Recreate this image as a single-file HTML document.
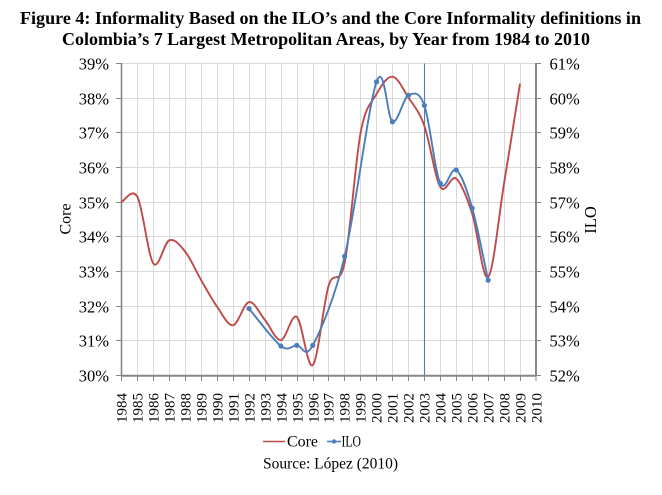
<!DOCTYPE html>
<html>
<head>
<meta charset="utf-8">
<style>
html,body{margin:0;padding:0;background:#fff;}
svg{display:block;}
text{font-family:"Liberation Serif","Times New Roman",serif;fill:#000;}
</style>
</head>
<body>
<svg id="chart" width="662" height="495" viewBox="0 0 662 495" xmlns="http://www.w3.org/2000/svg">
<rect x="0" y="0" width="662" height="495" fill="#fff"/>
<!-- Title -->
<text x="330.5" y="24" font-size="17.5" font-weight="bold" text-anchor="middle" textLength="621" lengthAdjust="spacingAndGlyphs">Figure 4: Informality Based on the ILO’s and the Core Informality definitions in</text>
<text x="326" y="45" font-size="17.5" font-weight="bold" text-anchor="middle" textLength="528" lengthAdjust="spacingAndGlyphs">Colombia’s 7 Largest Metropolitan Areas, by Year from 1984 to 2010</text>

<!-- horizontal gridlines -->
<g stroke="#d9d9d9" stroke-width="1">
<line x1="121.5" y1="63.5" x2="536" y2="63.5"/>
<line x1="121.5" y1="98.5" x2="536" y2="98.5"/>
<line x1="121.5" y1="132.5" x2="536" y2="132.5"/>
<line x1="121.5" y1="167.5" x2="536" y2="167.5"/>
<line x1="121.5" y1="202.5" x2="536" y2="202.5"/>
<line x1="121.5" y1="236.5" x2="536" y2="236.5"/>
<line x1="121.5" y1="271.5" x2="536" y2="271.5"/>
<line x1="121.5" y1="306.5" x2="536" y2="306.5"/>
<line x1="121.5" y1="340.5" x2="536" y2="340.5"/>
</g>
<!-- vertical gridlines -->
<g stroke="#d9d9d9" stroke-width="1">
<line x1="137.5" y1="63.5" x2="137.5" y2="375.5"/>
<line x1="153.5" y1="63.5" x2="153.5" y2="375.5"/>
<line x1="169.5" y1="63.5" x2="169.5" y2="375.5"/>
<line x1="185.5" y1="63.5" x2="185.5" y2="375.5"/>
<line x1="201.5" y1="63.5" x2="201.5" y2="375.5"/>
<line x1="217.5" y1="63.5" x2="217.5" y2="375.5"/>
<line x1="233.5" y1="63.5" x2="233.5" y2="375.5"/>
<line x1="249.5" y1="63.5" x2="249.5" y2="375.5"/>
<line x1="265.5" y1="63.5" x2="265.5" y2="375.5"/>
<line x1="281.5" y1="63.5" x2="281.5" y2="375.5"/>
<line x1="297.5" y1="63.5" x2="297.5" y2="375.5"/>
<line x1="313.5" y1="63.5" x2="313.5" y2="375.5"/>
<line x1="328.5" y1="63.5" x2="328.5" y2="375.5"/>
<line x1="344.5" y1="63.5" x2="344.5" y2="375.5"/>
<line x1="360.5" y1="63.5" x2="360.5" y2="375.5"/>
<line x1="376.5" y1="63.5" x2="376.5" y2="375.5"/>
<line x1="392.5" y1="63.5" x2="392.5" y2="375.5"/>
<line x1="408.5" y1="63.5" x2="408.5" y2="375.5"/>
<line x1="440.5" y1="63.5" x2="440.5" y2="375.5"/>
<line x1="456.5" y1="63.5" x2="456.5" y2="375.5"/>
<line x1="472.5" y1="63.5" x2="472.5" y2="375.5"/>
<line x1="488.5" y1="63.5" x2="488.5" y2="375.5"/>
<line x1="504.5" y1="63.5" x2="504.5" y2="375.5"/>
<line x1="520.5" y1="63.5" x2="520.5" y2="375.5"/>
</g>
<!-- blue vertical line at 2003 -->
<line x1="424.5" y1="63.5" x2="424.5" y2="375.5" stroke="#4a7ebb" stroke-width="1.1"/>

<!-- axes -->
<g stroke="#868686">
<line x1="121.5" y1="63" x2="121.5" y2="376" stroke-width="1.6"/>
<line x1="536" y1="63" x2="536" y2="376" stroke-width="2"/>
<line x1="121" y1="375.8" x2="536.5" y2="375.8" stroke-width="2"/>
</g>
<!-- left ticks -->
<g stroke="#868686" stroke-width="1">
<line x1="116" y1="63.5" x2="121.5" y2="63.5"/>
<line x1="116" y1="98.5" x2="121.5" y2="98.5"/>
<line x1="116" y1="132.5" x2="121.5" y2="132.5"/>
<line x1="116" y1="167.5" x2="121.5" y2="167.5"/>
<line x1="116" y1="202.5" x2="121.5" y2="202.5"/>
<line x1="116" y1="236.5" x2="121.5" y2="236.5"/>
<line x1="116" y1="271.5" x2="121.5" y2="271.5"/>
<line x1="116" y1="306.5" x2="121.5" y2="306.5"/>
<line x1="116" y1="340.5" x2="121.5" y2="340.5"/>
<line x1="116" y1="375.5" x2="121.5" y2="375.5"/>
<!-- right ticks -->
<line x1="536" y1="63.5" x2="541" y2="63.5"/>
<line x1="536" y1="98.5" x2="541" y2="98.5"/>
<line x1="536" y1="132.5" x2="541" y2="132.5"/>
<line x1="536" y1="167.5" x2="541" y2="167.5"/>
<line x1="536" y1="202.5" x2="541" y2="202.5"/>
<line x1="536" y1="236.5" x2="541" y2="236.5"/>
<line x1="536" y1="271.5" x2="541" y2="271.5"/>
<line x1="536" y1="306.5" x2="541" y2="306.5"/>
<line x1="536" y1="340.5" x2="541" y2="340.5"/>
<line x1="536" y1="375.5" x2="541" y2="375.5"/>
</g>
<!-- bottom ticks -->
<g stroke="#868686" stroke-width="1">
<line x1="121.5" y1="375" x2="121.5" y2="381"/>
<line x1="137.5" y1="375" x2="137.5" y2="381"/>
<line x1="153.5" y1="375" x2="153.5" y2="381"/>
<line x1="169.5" y1="375" x2="169.5" y2="381"/>
<line x1="185.5" y1="375" x2="185.5" y2="381"/>
<line x1="201.5" y1="375" x2="201.5" y2="381"/>
<line x1="217.5" y1="375" x2="217.5" y2="381"/>
<line x1="233.5" y1="375" x2="233.5" y2="381"/>
<line x1="249.5" y1="375" x2="249.5" y2="381"/>
<line x1="265.5" y1="375" x2="265.5" y2="381"/>
<line x1="281.5" y1="375" x2="281.5" y2="381"/>
<line x1="297.5" y1="375" x2="297.5" y2="381"/>
<line x1="313.5" y1="375" x2="313.5" y2="381"/>
<line x1="328.5" y1="375" x2="328.5" y2="381"/>
<line x1="344.5" y1="375" x2="344.5" y2="381"/>
<line x1="360.5" y1="375" x2="360.5" y2="381"/>
<line x1="376.5" y1="375" x2="376.5" y2="381"/>
<line x1="392.5" y1="375" x2="392.5" y2="381"/>
<line x1="408.5" y1="375" x2="408.5" y2="381"/>
<line x1="424.5" y1="375" x2="424.5" y2="381"/>
<line x1="440.5" y1="375" x2="440.5" y2="381"/>
<line x1="456.5" y1="375" x2="456.5" y2="381"/>
<line x1="472.5" y1="375" x2="472.5" y2="381"/>
<line x1="488.5" y1="375" x2="488.5" y2="381"/>
<line x1="504.5" y1="375" x2="504.5" y2="381"/>
<line x1="520.5" y1="375" x2="520.5" y2="381"/>
<line x1="536" y1="375" x2="536" y2="381"/>
</g>

<!-- left tick labels -->
<g font-size="16.5" text-anchor="end">
<text x="109" y="69.5">39%</text>
<text x="109" y="104.5">38%</text>
<text x="109" y="138.5">37%</text>
<text x="109" y="173.5">36%</text>
<text x="109" y="208.5">35%</text>
<text x="109" y="242.5">34%</text>
<text x="109" y="277.5">33%</text>
<text x="109" y="312.5">32%</text>
<text x="109" y="346.5">31%</text>
<text x="109" y="381.5">30%</text>
</g>
<!-- right tick labels -->
<g font-size="16.5" text-anchor="start">
<text x="549.5" y="69.5">61%</text>
<text x="549.5" y="104.5">60%</text>
<text x="549.5" y="138.5">59%</text>
<text x="549.5" y="173.5">58%</text>
<text x="549.5" y="208.5">57%</text>
<text x="549.5" y="242.5">56%</text>
<text x="549.5" y="277.5">55%</text>
<text x="549.5" y="312.5">54%</text>
<text x="549.5" y="346.5">53%</text>
<text x="549.5" y="381.5">52%</text>
</g>

<!-- axis titles -->
<text transform="translate(70.5,219) rotate(-90)" font-size="16" text-anchor="middle">Core</text>
<text transform="translate(596,220) rotate(-90)" font-size="16.5" text-anchor="middle">ILO</text>

<!-- x labels -->
<g font-size="15" text-anchor="end">
<text transform="translate(126.5,393) rotate(-90)">1984</text>
<text transform="translate(142.5,393) rotate(-90)">1985</text>
<text transform="translate(158.5,393) rotate(-90)">1986</text>
<text transform="translate(174.5,393) rotate(-90)">1987</text>
<text transform="translate(190.5,393) rotate(-90)">1988</text>
<text transform="translate(206.5,393) rotate(-90)">1989</text>
<text transform="translate(222.5,393) rotate(-90)">1990</text>
<text transform="translate(238.5,393) rotate(-90)">1991</text>
<text transform="translate(254.5,393) rotate(-90)">1992</text>
<text transform="translate(270.5,393) rotate(-90)">1993</text>
<text transform="translate(286.5,393) rotate(-90)">1994</text>
<text transform="translate(302.5,393) rotate(-90)">1995</text>
<text transform="translate(318.5,393) rotate(-90)">1996</text>
<text transform="translate(333.5,393) rotate(-90)">1997</text>
<text transform="translate(349.5,393) rotate(-90)">1998</text>
<text transform="translate(365.5,393) rotate(-90)">1999</text>
<text transform="translate(381.5,393) rotate(-90)">2000</text>
<text transform="translate(397.5,393) rotate(-90)">2001</text>
<text transform="translate(413.5,393) rotate(-90)">2002</text>
<text transform="translate(429.5,393) rotate(-90)">2003</text>
<text transform="translate(445.5,393) rotate(-90)">2004</text>
<text transform="translate(461.5,393) rotate(-90)">2005</text>
<text transform="translate(477.5,393) rotate(-90)">2006</text>
<text transform="translate(493.5,393) rotate(-90)">2007</text>
<text transform="translate(509.5,393) rotate(-90)">2008</text>
<text transform="translate(525.5,393) rotate(-90)">2009</text>
<text transform="translate(541.5,393) rotate(-90)">2010</text>
</g>

<!-- series -->
<path id="core" fill="none" stroke="#be4b48" stroke-width="1.9" stroke-linejoin="round" d="M121.5,202.2 L137.4,197 L153.4,263.6 L169.3,240.4 L185.3,251.8 L201.2,280.2 L217.1,306.9 L233.1,325.3 L249,302.1 L265,320.1 L280.9,340.2 L296.8,317 L312.8,365.1 L328.7,285.4 L344.7,262.9 L360.6,136.3 L376.5,94.8 L392.5,77.4 L408.4,98.2 L424.4,125.9 L440.3,186.9 L456.2,178.6 L472.2,213.6 L488.1,277 L504.1,183.4 L520,83.5"/>
<path id="ilo" fill="none" stroke="#4a7ebb" stroke-width="1.9" stroke-linejoin="round" d="M249,307.9 L280.9,345.4 L296.8,344.7 L312.8,344.7 L344.7,256.1 L376.5,81.5 L392.5,121.3 L408.4,95 L424.4,105.4 L440.3,183.4 L456.2,170.2 L472.2,208.3 L488.1,280.2"/>
<g id="markers" fill="#4a7ebb"></g>

<!-- legend -->
<line x1="263" y1="441.5" x2="285" y2="441.5" stroke="#be4b48" stroke-width="1.6"/>
<text x="287" y="446.5" font-size="16" textLength="31" lengthAdjust="spacingAndGlyphs">Core</text>
<line x1="327" y1="441.5" x2="341" y2="441.5" stroke="#4a7ebb" stroke-width="1.6"/>
<circle cx="334" cy="441.5" r="2.2" fill="#4a7ebb"/>
<text x="341.5" y="446.5" font-size="16" textLength="19.5" lengthAdjust="spacingAndGlyphs">ILO</text>
<!-- source -->
<text x="263" y="468.5" font-size="16" textLength="135" lengthAdjust="spacingAndGlyphs">Source: López (2010)</text>
</svg>
<script>
(function(){
  function X(i){return 121.5+i*15.94;}
  function YC(v){return 375.5-(v-30)*34.667;}
  function YI(v){return 375.5-(v-52)*34.667;}
  var core=[35.0,35.15,33.23,33.9,33.57,32.75,31.98,31.45,32.12,31.6,31.02,31.69,30.3,32.6,33.25,37.0,38.12,38.62,38.02,37.2,35.44,35.68,34.67,32.84,35.54,38.42];
  var cpts=core.map(function(v,i){return [X(i),YC(v)];});
  var ilo=[[8,53.93],[10,52.85],[11,52.87],[12,52.87],[14,55.44],[16,60.47],[17,59.32],[18,60.08],[19,59.79],[20,57.54],[21,57.93],[22,56.83],[23,54.75]];
  var ipts=ilo.map(function(p){return [X(p[0]),YI(p[1])];});
  function smooth(p){
    var d="M"+p[0][0].toFixed(2)+","+p[0][1].toFixed(2);
    for(var i=0;i<p.length-1;i++){
      var p0=p[i-1]||p[i],p1=p[i],p2=p[i+1],p3=p[i+2]||p[i+1];
      var c1x=p1[0]+(p2[0]-p0[0])/6,c1y=p1[1]+(p2[1]-p0[1])/6;
      var c2x=p2[0]-(p3[0]-p1[0])/6,c2y=p2[1]-(p3[1]-p1[1])/6;
      d+=" C"+c1x.toFixed(2)+","+c1y.toFixed(2)+" "+c2x.toFixed(2)+","+c2y.toFixed(2)+" "+p2[0].toFixed(2)+","+p2[1].toFixed(2);
    }
    return d;
  }
  document.getElementById("core").setAttribute("d",smooth(cpts));
  document.getElementById("ilo").setAttribute("d",smooth(ipts));
  var g=document.getElementById("markers"),ns="http://www.w3.org/2000/svg";
  ipts.forEach(function(p){
    var c=document.createElementNS(ns,"circle");
    c.setAttribute("cx",p[0]);c.setAttribute("cy",p[1]);c.setAttribute("r","2.6");
    g.appendChild(c);
  });
})();
</script>
</body>
</html>
